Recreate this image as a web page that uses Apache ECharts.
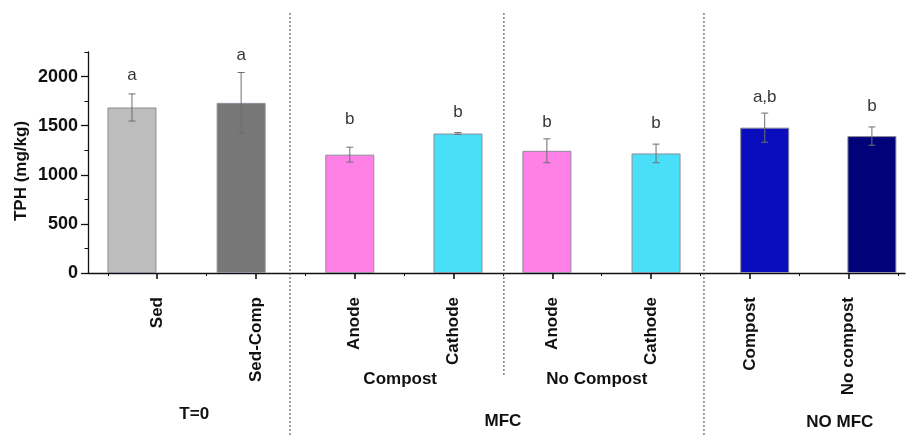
<!DOCTYPE html>
<html>
<head>
<meta charset="utf-8">
<script src="https://cdn.jsdelivr.net/npm/echarts@6/dist/echarts.min.js"></script>
<style>
  html, body { margin: 0; padding: 0; background: #fff; }
  #chart { width: 908px; height: 435px; }
</style>
</head>
<body>
<div id="chart"></div>
<script>
// ---- data ----
const categories = ['Sed', 'Sed-Comp', 'Anode', 'Cathode', 'Anode', 'Cathode', 'Compost', 'No compost'];
const labelPositions = [1, 3, 5, 7, 9, 11, 13, 15];           // axis units of category labels
const barPositions = [0.49, 2.70, 4.90, 7.09, 8.89, 11.10, 13.30, 15.47];
const tphValues = [1685, 1732, 1205, 1420, 1244, 1217, 1480, 1394];
const tphErrors = [138, 309, 76, 10, 122, 95, 148, 93];
const letters = ['a', 'a', 'b', 'b', 'b', 'b', 'a,b', 'b'];
const letterValues = [2017, 2221, 1560, 1641, 1539, 1529, 1793, 1702];
const barColors = ['#bdbdbd', '#777777', '#ff80e6', '#4adff8', '#ff80e6', '#4adff8', '#0a0dbe', '#01017a'];
const yTicks = [0, 500, 1000, 1500, 2000];
const yMinorTicks = [250, 750, 1250, 1750, 2250];
const xMinorTicks = [0, 2, 4, 6, 8, 10, 12, 14, 16];
const groupLabels = ['Compost', 'No Compost', 'T=0', 'MFC', 'NO MFC'];
const groupPositions = [5.92, 9.90, 1.75, 8.0, 14.82];
const separatorPositions = [3.69, 8.02, 12.07];
const yTitle = 'TPH (mg/kg)';

// ---- layout (pixels) ----
const groupRowY = [379, 379, 414, 421, 422];
const separatorTop = [13, 13, 13];
const separatorBottom = [435, 376, 435];
const FONT = '"Liberation Sans", Arial, sans-serif';

const chart = echarts.init(document.getElementById('chart'));

const barData = tphValues.map((v, i) => ({
  value: [barPositions[i], v],
  itemStyle: { color: barColors[i] }
}));
const errData = tphValues.map((v, i) => [barPositions[i], v, tphErrors[i]]);
const letterData = letterValues.map((v, i) => ({
  value: [barPositions[i], v],
  label: { formatter: letters[i] }
}));

const option = {
  animation: false,
  backgroundColor: '#ffffff',
  grid: { left: 88, right: 3, top: 52, bottom: 162, containLabel: false },
  graphic: [{
    type: 'text', x: 21, y: 171, rotation: Math.PI / 2,
    style: {
      text: yTitle, align: 'center', verticalAlign: 'middle',
      fontFamily: FONT, fontWeight: 'bold', fontSize: 17, fill: '#111'
    }
  }],
  xAxis: [
    {
      type: 'value', min: -0.4, max: 16.14, position: 'bottom',
      axisLine: { show: true, onZero: false, lineStyle: { color: '#111', width: 1.3 } },
      axisTick: { show: true, customValues: labelPositions, length: 6, lineStyle: { color: '#111', width: 1.6 } },
      axisLabel: {
        show: true, customValues: labelPositions, rotate: 90, margin: 24,
        fontFamily: FONT, fontWeight: 'bold', fontSize: 17, color: '#111',
        formatter: (v) => { const i = labelPositions.indexOf(Math.round(v)); return i >= 0 ? categories[i] : ''; }
      },
      splitLine: { show: false }
    },
    {
      type: 'value', min: -0.4, max: 16.14, position: 'bottom', gridIndex: 0,
      axisLine: { show: false, onZero: false },
      axisTick: { show: true, customValues: xMinorTicks, length: 3, lineStyle: { color: '#111', width: 1 } },
      axisLabel: { show: false },
      splitLine: { show: false }
    }
  ],
  yAxis: [
    {
      type: 'value', min: 0, max: 2250, position: 'left',
      axisLine: { show: true, onZero: false, lineStyle: { color: '#111', width: 1.3 } },
      axisTick: { show: true, customValues: yTicks, length: 7, lineStyle: { color: '#111', width: 1.3 } },
      axisLabel: {
        show: true, customValues: yTicks, margin: 10, fontFamily: FONT, fontWeight: 'bold', fontSize: 18, color: '#111',
        formatter: (v) => String(Math.round(v))
      },
      splitLine: { show: false }
    },
    {
      type: 'value', min: 0, max: 2250, position: 'left',
      axisLine: { show: false, onZero: false },
      axisTick: { show: true, customValues: yMinorTicks, length: 3.5, lineStyle: { color: '#111', width: 1 } },
      axisLabel: { show: false },
      splitLine: { show: false }
    }
  ],
  series: [
    {
      type: 'bar', xAxisIndex: 0, yAxisIndex: 0, barWidth: 49,
      data: barData,
      itemStyle: { borderColor: '#8c8c9a', borderWidth: 1 },
      z: 2
    },
    {
      type: 'custom', xAxisIndex: 0, yAxisIndex: 0, z: 3,
      data: errData,
      renderItem: (params, api) => {
        const x = api.value(0), y = api.value(1), e = api.value(2);
        const top = api.coord([x, y + e]);
        const bot = api.coord([x, y - e]);
        const cw = 3.5;
        const st = { stroke: '#6e6e6e', lineWidth: 1 };
        return {
          type: 'group',
          children: [
            { type: 'line', shape: { x1: top[0], y1: top[1], x2: bot[0], y2: bot[1] }, style: st },
            { type: 'line', shape: { x1: top[0] - cw, y1: top[1], x2: top[0] + cw, y2: top[1] }, style: st },
            { type: 'line', shape: { x1: bot[0] - cw, y1: bot[1], x2: bot[0] + cw, y2: bot[1] }, style: st }
          ]
        };
      }
    },
    {
      type: 'scatter', xAxisIndex: 0, yAxisIndex: 0, symbolSize: 0, z: 4,
      data: letterData,
      label: { show: true, position: 'inside', fontFamily: FONT, fontSize: 17, color: '#000' }
    },
    {
      type: 'custom', xAxisIndex: 0, yAxisIndex: 0, z: 1, clip: false,
      data: separatorPositions.map((v, i) => [v, i]),
      renderItem: (params, api) => {
        const i = api.value(1);
        const p = api.coord([api.value(0), 0]);
        return {
          type: 'line',
          shape: { x1: p[0], y1: separatorTop[i], x2: p[0], y2: separatorBottom[i] },
          style: { stroke: '#444', lineWidth: 1, lineDash: [2, 2] }
        };
      }
    },
    {
      type: 'custom', xAxisIndex: 0, yAxisIndex: 0, z: 5, clip: false,
      data: groupPositions.map((v, i) => [v, i]),
      renderItem: (params, api) => {
        const i = api.value(1);
        const p = api.coord([api.value(0), 0]);
        return {
          type: 'text',
          style: {
            x: p[0], y: groupRowY[i], text: groupLabels[i],
            align: 'center', verticalAlign: 'middle',
            fontFamily: FONT, fontWeight: 'bold', fontSize: 17, fill: '#111'
          }
        };
      }
    }
  ]
};
chart.setOption(option);
</script>
</body>
</html>
